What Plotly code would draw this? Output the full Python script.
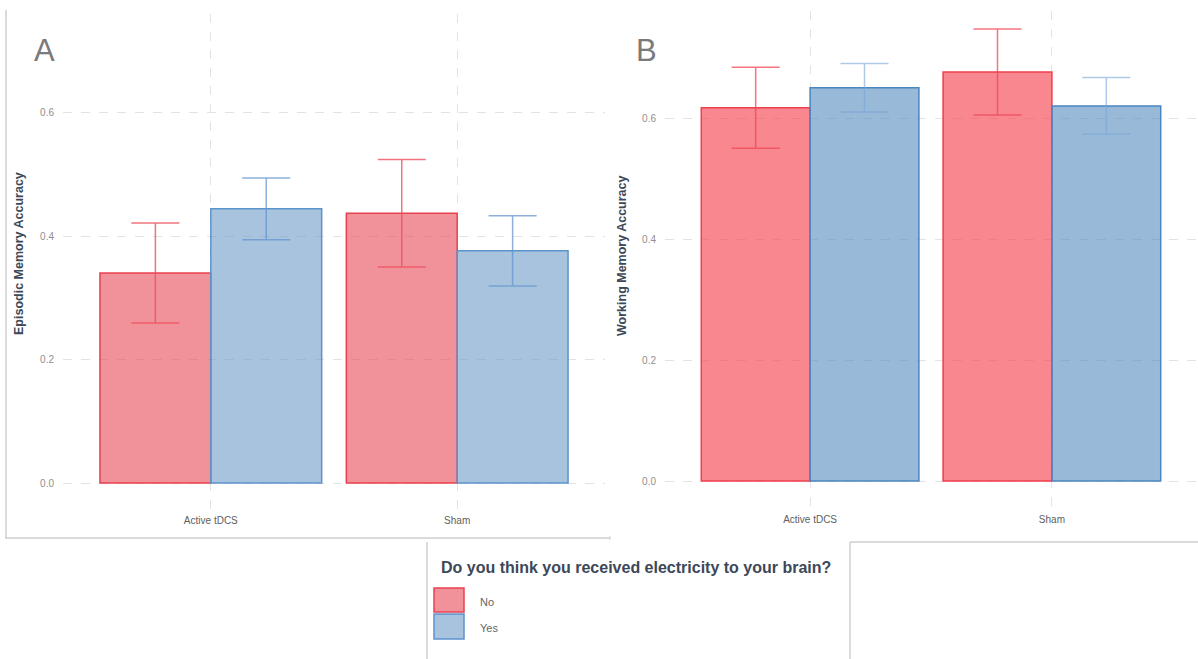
import plotly.graph_objects as go

W, H = 1198, 659

conditions = ["Active tDCS", "Sham"]
groups = ["No", "Yes"]

# Panel A: Episodic memory accuracy
ep_no_mean = [0.340, 0.437]
ep_no_err = [0.081, 0.087]
ep_yes_mean = [0.444, 0.376]
ep_yes_err = [0.050, 0.057]

# Panel B: Working memory accuracy
wm_no_mean = [0.617, 0.676]
wm_no_err = [0.067, 0.071]
wm_yes_mean = [0.650, 0.620]
wm_yes_err = [0.040, 0.047]

y_ticks = [0.0, 0.2, 0.4, 0.6]
y_ticklabels = ["0.0", "0.2", "0.4", "0.6"]

FONT = "Liberation Sans, Arial, Helvetica, sans-serif"
TITLE_COL = "#3c4858"

def px_x(x):
    return x / W

def px_y(y):
    return 1 - y / H

fig = go.Figure()

panels = [
    dict(xa="x", ya="y", no=(ep_no_mean, ep_no_err), yes=(ep_yes_mean, ep_yes_err),
         no_fill="rgba(232,72,86,0.6)", no_line="#e8414f", no_err="rgba(236,80,94,0.8)",
         yes_fill="rgba(110,155,200,0.6)", yes_line="#5d93cc", yes_err="rgba(100,150,205,0.75)"),
    dict(xa="x2", ya="y2", no=(wm_no_mean, wm_no_err), yes=(wm_yes_mean, wm_yes_err),
         no_fill="rgba(244,70,84,0.65)", no_line="#ee3f4e", no_err="rgba(242,70,86,0.75)",
         yes_fill="rgba(85,138,190,0.6)", yes_line="#4a86c0", yes_err="rgba(120,165,215,0.6)"),
]

for p in panels:
    for g, key in zip(groups, ["no", "yes"]):
        mean, err = p[key]
        fig.add_trace(go.Bar(
            x=[0, 1], y=mean, name=g, offsetgroup=g,
            xaxis=p["xa"], yaxis=p["ya"],
            marker=dict(color=p[key + "_fill"], line=dict(color=p[key + "_line"], width=1.5)),
            error_y=dict(type="data", array=err, visible=True,
                         color=p[key + "_err"], thickness=1.5, width=24),
            showlegend=False,
        ))

axis_common = dict(
    showgrid=True, gridcolor="#e3e3e3", griddash="dash", gridwidth=1,
    zeroline=False, showline=False, ticks="",
)

fig.update_layout(
    width=W, height=H,
    margin=dict(l=0, r=0, t=0, b=0),
    paper_bgcolor="white", plot_bgcolor="white",
    barmode="group", bargap=0.1, bargroupgap=0,
    font=dict(family=FONT),
    xaxis=dict(domain=[px_x(63), px_x(605)], range=[-0.6, 1.6], anchor="y",
               tickvals=[0, 1], ticktext=conditions,
               tickfont=dict(size=10, color="#606060"), ticklabelstandoff=2, **axis_common),
    yaxis=dict(domain=[px_y(511), px_y(14)], range=[-0.0453, 0.7595], anchor="x",
               tickvals=y_ticks, ticktext=y_ticklabels,
               tickfont=dict(size=10, color="#8f8f8f"), ticklabelstandoff=8, **axis_common),
    xaxis2=dict(domain=[px_x(665), px_x(1197)], range=[-0.6, 1.6], anchor="y2",
                tickvals=[0, 1], ticktext=conditions,
                tickfont=dict(size=10, color="#606060"), ticklabelstandoff=2, **axis_common),
    yaxis2=dict(domain=[px_y(510), px_y(11)], range=[-0.0479, 0.7769], anchor="x2",
                tickvals=y_ticks, ticktext=y_ticklabels,
                tickfont=dict(size=10, color="#8f8f8f"), ticklabelstandoff=8, **axis_common),
)

annotations = [
    dict(x=px_x(19), y=px_y(254), text="<b>Episodic Memory Accuracy</b>", textangle=-90,
         font=dict(size=12.5, color=TITLE_COL)),
    dict(x=px_x(622), y=px_y(256), text="<b>Working Memory Accuracy</b>", textangle=-90,
         font=dict(size=12.5, color=TITLE_COL)),
    dict(x=px_x(44), y=px_y(50), text="A", font=dict(size=31, color="#7a7a7a")),
    dict(x=px_x(647), y=px_y(50), text="B", font=dict(size=31, color="#7a7a7a")),
    dict(x=px_x(439), y=px_y(567), text="<b>Do you think you received electricity to your brain?</b>",
         xanchor="left", font=dict(size=16, color=TITLE_COL)),
    dict(x=px_x(478), y=px_y(602), text="No", xanchor="left", font=dict(size=11, color="#666666")),
    dict(x=px_x(478), y=px_y(628), text="Yes", xanchor="left", font=dict(size=11, color="#666666")),
]
for a in annotations:
    a.update(xref="paper", yref="paper", showarrow=False)
    a.setdefault("xanchor", "center")
    a.setdefault("yanchor", "middle")
fig.update_layout(annotations=annotations)

frame = "#cfcfcf"
shapes = [
    # panel A frame
    dict(type="line", x0=6, x1=6, y0=10, y1=539, line=dict(color=frame, width=1.5)),
    dict(type="line", x0=6, x1=610, y0=538, y1=538, line=dict(color=frame, width=1.5)),
    dict(type="line", x0=610, x1=610, y0=536, y1=540, line=dict(color=frame, width=1)),
    # legend box
    dict(type="line", x0=427, x1=427, y0=542, y1=659, line=dict(color=frame, width=1.5)),
    dict(type="line", x0=850, x1=850, y0=542, y1=659, line=dict(color=frame, width=1.5)),
    dict(type="line", x0=850, x1=1198, y0=542, y1=542, line=dict(color=frame, width=1.5)),
    # legend swatches
    dict(type="rect", x0=434, x1=464, y0=588, y1=612,
         fillcolor="rgba(232,72,86,0.6)", line=dict(color="#e8414f", width=1.5)),
    dict(type="rect", x0=434, x1=464, y0=614, y1=639,
         fillcolor="rgba(110,155,200,0.6)", line=dict(color="#5d93cc", width=1.5)),
]
for s in shapes:
    s.update(xref="paper", yref="paper", layer="above")
    s["x0"], s["x1"] = px_x(s["x0"]), px_x(s["x1"])
    s["y0"], s["y1"] = px_y(s["y0"]), px_y(s["y1"])
fig.update_layout(shapes=shapes)

fig.write_html(
    "out.html",
    config={"displayModeBar": False},
    post_script="document.body.style.margin='0px';document.body.style.overflow='hidden';",
)
